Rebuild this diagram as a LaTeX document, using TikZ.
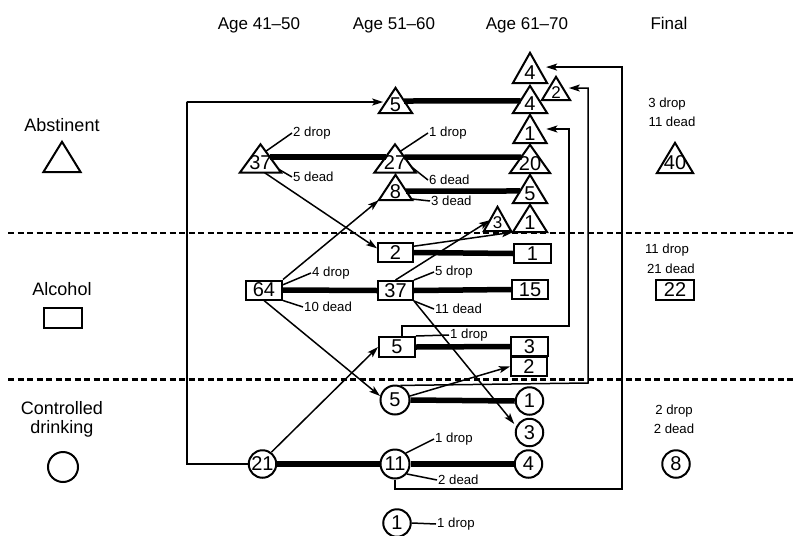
\documentclass[tikz,border=0pt]{standalone}
\usepackage{fontspec}
\setmainfont{Liberation Sans}
\usetikzlibrary{arrows.meta,calc}
\newcommand\fHead{\fontsize{17}{21}\selectfont}
\newcommand\fSide{\fontsize{18}{21}\selectfont}
\newcommand\fNum{\fontsize{20}{23}\selectfont}
\newcommand\fNumS{\fontsize{17}{20}\selectfont}
\newcommand\fLab{\fontsize{13.2}{15}\selectfont}
\begin{document}
\begin{tikzpicture}[x=1pt, y=-1pt, line join=miter,
  outline/.style={line width=2pt},
  conn/.style={line width=1.5pt},
  heavy/.style={line width=5.5pt},
  arr/.style={conn, -{Stealth[length=11pt,width=7pt,inset=2.5pt]}},
  divider/.style={line width=2.1pt, dash pattern=on 6pt off 3.5pt},
  trinode/.style 2 args={rectangle, inner sep=0pt, minimum width=#1, minimum height=#2,
    font=\fNum, text height=22.3pt, text depth=0pt},
  trismall/.style 2 args={trinode={#1}{#2}, font=\fNumS, text height=19.2pt},
  numbox/.style={rectangle, draw, outline, inner sep=0pt, minimum width=36pt, minimum height=19pt, font=\fNum},
  ring/.style={circle, draw, outline, inner sep=0pt, minimum size=27.5pt, font=\fNum},
  colhead/.style={font=\fHead, anchor=base},
  sidehead/.style={font=\fSide, anchor=base},
  note/.style={font=\fLab, anchor=west, inner sep=1pt},
  finalnote/.style={font=\fLab, inner sep=1pt}]
\useasboundingbox (0,0) rectangle (796,536);

% state bands
\coordinate (dAl) at (8,233);   \coordinate (dAr) at (796,233);
\coordinate (dBl) at (8,379.5); \coordinate (dBr) at (796,379.5);
\draw[divider] (dAl) -- (dAr);
\draw[divider] (dBl) -- (dBr);

% column headings
\node[colhead] (h1) at (259,29) {Age 41–50};
\node[colhead] (h2) at (394,29) {Age 51–60};
\node[colhead] (h3) at (527,29) {Age 61–70};
\node[colhead] (h4) at (669,29) {Final};

% legend
\node[sidehead] (gA) at (62,131) {Abstinent};
\node[trinode={37}{30}] (TA) at (62,157) {};
\node[sidehead] (gB) at (62,295) {Alcohol};
\node[numbox, minimum width=38pt, minimum height=20pt] (RA) at (63,318) {};
\node[font=\fSide, align=center, inner sep=0pt] (gC) at (62,419) {Controlled\\[-2pt]drinking};
\node[ring, minimum size=30pt] (CA) at (63,467) {};

% abstinent states
\node[trinode={41}{28}] (T37) at (260.5,158.5) {37};
\node[trinode={33}{25}] (T5a) at (395.5,100.5) {5};
\node[trinode={41}{28}] (T27) at (395,158.5) {27};
\node[trinode={33}{25}] (T8)  at (395.5,187.5) {8};
\node[trinode={34}{30}] (T4a) at (530,68) {4};
\node[trismall={28}{23}] (T2) at (556,88.5) {2};
\node[trinode={34}{27}] (T4b) at (530,99.5) {4};
\node[trinode={33}{28}] (T1a) at (530,129) {1};
\node[trinode={40}{28}] (T20) at (530,159) {20};
\node[trinode={34}{28}] (T5c) at (530,189) {5};
\node[trinode={34}{27}] (T1b) at (530,218.5) {1};
\node[trismall={27}{24}] (T3) at (497.5,219) {3};
\node[trinode={36}{30}] (T40) at (675,158) {40};
\foreach \t in {TA,T37,T5a,T27,T8,T4a,T2,T4b,T1a,T20,T5c,T1b,T3,T40}
  \draw[outline] (\t.south west) -- (\t.north) -- (\t.south east) -- cycle;

% alcohol states
\node[numbox] (R64) at (264,290) {64};
\node[numbox, minimum width=35pt] (R2a) at (395.5,252.5) {2};
\node[numbox, minimum width=35pt] (R37) at (395.5,290.5) {37};
\node[numbox, minimum height=20pt] (R5) at (397,347) {5};
\node[numbox, minimum width=37pt] (R1) at (532.5,253.5) {1};
\node[numbox] (R15) at (530,289.5) {15};
\node[numbox, minimum width=37pt] (R3) at (529.5,346.5) {3};
\node[numbox] (R2b) at (529,366.5) {2};
\node[numbox, minimum width=38pt, minimum height=20pt] (R22) at (675,290) {22};

% controlled drinking states
\node[ring] (C21) at (262.5,464) {21};
\node[ring, minimum size=29pt] (C5) at (395,400) {5};
\node[ring, minimum size=29pt] (C11) at (395,464) {11};
\node[ring] (C1L) at (397,523) {1};
\node[ring] (C1) at (529.5,401) {1};
\node[ring] (C3) at (529.5,432.5) {3};
\node[ring] (C4) at (528.5,464) {4};
\node[ring] (C8) at (676,464) {8};

% final tallies
\node[finalnote] (f1) at (667,104) {3 drop};
\node[finalnote] (f2) at (672,122) {11 dead};
\node[finalnote] (f3) at (667,250) {11 drop};
\node[finalnote] (f4) at (671,269) {21 dead};
\node[finalnote] (f5) at (674,411) {2 drop};
\node[finalnote] (f6) at (674,429) {2 dead};

% drop-out and death notes
\node[note] (n1) at (292,133) {2 drop};
\node[note] (n2) at (292,177) {5 dead};
\node[note] (n3) at (428,133) {1 drop};
\node[note] (n4) at (428,180) {6 dead};
\node[note] (n5) at (430,201) {3 dead};
\node[note] (n6) at (311,273) {4 drop};
\node[note] (n7) at (303,307) {10 dead};
\node[note] (n8) at (434,272) {5 drop};
\node[note] (n9) at (434,309) {11 dead};
\node[note] (n10) at (449,335) {1 drop};
\node[note] (n11) at (434,439) {1 drop};
\node[note] (n12) at (437,480) {2 dead};
\node[note] (n13) at (436,524) {1 drop};

\draw[conn] ($(T37.north)!0.25!(T37.south east)$) -- (n1.west);
\draw[conn] ($(T37.north)!0.88!(T37.south east)$) -- (n2.west);
\draw[conn] ($(T27.north)!0.25!(T27.south east)$) -- (n3.west);
\draw[conn] ($(T27.north)!0.8!(T27.south east)$) -- (n4.west);
\draw[conn] ($(T8.north)!0.95!(T8.south east)$) -- (n5.west);
\draw[conn] ($(R64.north east)!0.25!(R64.south east)$) -- (n6.west);
\draw[conn] (R64.south east) -- (n7.west);
\draw[conn] (R37.north east) -- (n8.west);
\draw[conn] (R37.south east) -- (n9.west);
\draw[conn] (R5.north east) -- (n10.west);
\draw[conn] (C11.45) -- (n11.west);
\draw[conn] (C11.-40) -- (n12.west);
\draw[conn] (C1L.east) -- (n13.west);

% staying in the same state
\draw[heavy] ($(T5a.north)!0.52!(T5a.south east)$) -- ($(T4b.north)!0.55!(T4b.south west)$);
\draw[heavy] ($(T37.north)!0.45!(T37.south east)$) -- ($(T27.north)!0.45!(T27.south west)$);
\draw[heavy] ($(T27.north)!0.45!(T27.south east)$) -- ($(T20.north)!0.43!(T20.south west)$);
\draw[heavy] ($(T8.north)!0.64!(T8.south east)$) -- ($(T5c.north)!0.57!(T5c.south west)$);
\draw[heavy] (R2a.east) -- (R1.west);
\draw[heavy] (R64.east) -- (R37.west);
\draw[heavy] (R37.east) -- (R15.west);
\draw[heavy] (R5.east) -- (R3.west);
\draw[heavy] (C5.east) -- (C1.west);
\draw[heavy] (C21.east) -- (C11.west);
\draw[heavy] (C11.east) -- (C4.west);

% changes of state
\draw[arr] ($(T37.south)!0.2!(T37.south east)$) -- ($(R2a.north west)!0.3!(R2a.south west)$);
\draw[arr] (R64.north east) -- (T8.south west);
\draw[arr] (R64.south) -- (C5.165);
\draw[arr] (C21.53) -- (R5.west);
\draw[arr] ($(R2a.north east)!0.2!(R2a.south east)$) -- (T1b.south west);
\draw[arr] (R37.north) -- ($(T3.north)!0.55!(T3.south west)$);
\draw[arr, shorten >=3pt] (R37.south east) -- (C3.155);
\draw[arr] (C5.15) -- (R2b.west);

\coordinate (kT5) at (187,102);
\draw[arr, shorten >=3pt] (C21.west) -| (kT5) |- ($(T5a.north)!0.56!(T5a.south west)$);
\coordinate (kT1) at (569,326);
\draw[arr, shorten >=8pt] ($(R5.north)+(5,0)$) |- (kT1) |- ($(T1a.north)!0.5!(T1a.south east)$);
\coordinate (kT2) at (588,383);
\draw[arr, shorten >=6pt] (C5.70) -- (kT2) |- ($(T2.north)!0.48!(T2.south east)$);
\coordinate (kT4) at (622,489);
\draw[arr, shorten >=8pt] (C11.south) |- (kT4) |- ($(T4a.north)!0.47!(T4a.south east)$);
\end{tikzpicture}
\end{document}
